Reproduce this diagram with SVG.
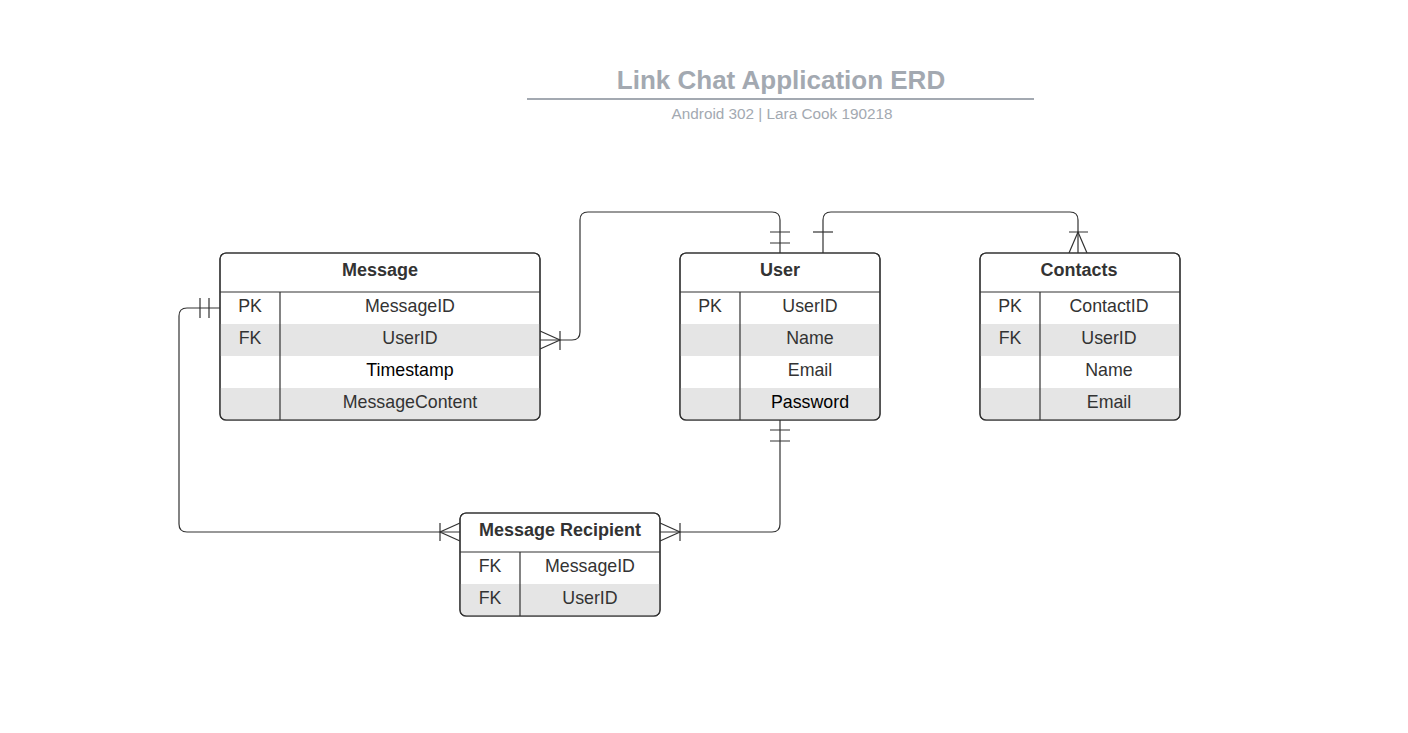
<svg xmlns="http://www.w3.org/2000/svg" width="1408" height="733" viewBox="0 0 1408 733">
<style>
.box{fill:#fff;stroke:#333;stroke-width:1.2}
.band{fill:#e5e5e5}
.ln{stroke:#333;stroke-width:1.2;fill:none}
.hd{font-family:"Liberation Sans",Arial,sans-serif;font-size:18px;font-weight:bold;fill:#333;text-anchor:middle}
.tx{font-family:"Liberation Sans",Arial,sans-serif;font-size:17.8px;fill:#333;text-anchor:middle}
.bk{fill:#000}
.cn{stroke:#333;stroke-width:1.2;fill:none}
</style>
<rect width="1408" height="733" fill="#fff"/>
<g id="title">
<text x="781" y="89" font-family="Liberation Sans,Arial,sans-serif" font-size="26" font-weight="bold" fill="#a3a9b1" text-anchor="middle">Link Chat Application ERD</text>
<line x1="527" y1="99" x2="1034" y2="99" stroke="#a3a9b1" stroke-width="2"/>
<text x="782" y="119" font-family="Liberation Sans,Arial,sans-serif" font-size="15.3" fill="#a3a9b1" text-anchor="middle">Android 302 | Lara Cook 190218</text>
</g>
<g id="connectors">
<path class="cn" d="M540,340 H572 Q580,340 580,332 V220 Q580,212 588,212 H772 Q780,212 780,220 V253"/>
<path class="cn" d="M540,331 L560,340 L540,349 M560,331 V350"/>
<path class="cn" d="M770,232 H790 M770,243 H790"/>
<path class="cn" d="M823,253 V220 Q823,212 831,212 H1070 Q1078,212 1078,220 V253"/>
<path class="cn" d="M813,232 H833"/>
<path class="cn" d="M1069,253 L1078,232 L1087,253 M1069,232 H1088"/>
<path class="cn" d="M220,308 H187 Q179,308 179,316 V524 Q179,532 187,532 H460"/>
<path class="cn" d="M200,298 V318 M209,298 V318"/>
<path class="cn" d="M460,523 L440,532 L460,541 M440,523 V541"/>
<path class="cn" d="M780,420 V524 Q780,532 772,532 H660"/>
<path class="cn" d="M770,430 H790 M770,441 H790"/>
<path class="cn" d="M660,523 L680,532 L660,541 M680,523 V541"/>
</g>
<g id="message">
<rect class="box" x="220" y="253" width="320" height="167" rx="6"/>
<rect class="band" x="220.6" y="324" width="318.8" height="32"/>
<path class="band" d="M220.6,388 H539.4 V413 Q539.4,419.4 533,419.4 H227 Q220.6,419.4 220.6,413 Z"/>
<rect x="220" y="253" width="320" height="167" rx="6" class="ln"/>
<path class="ln" d="M220,292 H540 M280,292 V420"/>
<text class="hd" x="380" y="276">Message</text>
<text class="tx" x="250" y="312">PK</text><text class="tx" x="410" y="312">MessageID</text>
<text class="tx" x="250" y="344">FK</text><text class="tx" x="410" y="344">UserID</text>
<text class="tx bk" x="410" y="376">Timestamp</text>
<text class="tx" x="410" y="408">MessageContent</text>
</g>
<g id="user">
<rect class="box" x="680" y="253" width="200" height="167" rx="6"/>
<rect class="band" x="680.6" y="324" width="198.8" height="32"/>
<path class="band" d="M680.6,388 H879.4 V413 Q879.4,419.4 873,419.4 H687 Q680.6,419.4 680.6,413 Z"/>
<rect x="680" y="253" width="200" height="167" rx="6" class="ln"/>
<path class="ln" d="M680,292 H880 M740,292 V420"/>
<text class="hd" x="780" y="276">User</text>
<text class="tx" x="710" y="312">PK</text><text class="tx" x="810" y="312">UserID</text>
<text class="tx" x="810" y="344">Name</text>
<text class="tx" x="810" y="376">Email</text>
<text class="tx bk" x="810" y="408">Password</text>
</g>
<g id="contacts">
<rect class="box" x="980" y="253" width="200" height="167" rx="6"/>
<rect class="band" x="980.6" y="324" width="198.8" height="32"/>
<path class="band" d="M980.6,388 H1179.4 V413 Q1179.4,419.4 1173,419.4 H987 Q980.6,419.4 980.6,413 Z"/>
<rect x="980" y="253" width="200" height="167" rx="6" class="ln"/>
<path class="ln" d="M980,292 H1180 M1040,292 V420"/>
<text class="hd" x="1079" y="276">Contacts</text>
<text class="tx" x="1010" y="312">PK</text><text class="tx" x="1109" y="312">ContactID</text>
<text class="tx" x="1010" y="344">FK</text><text class="tx" x="1109" y="344">UserID</text>
<text class="tx" x="1109" y="376">Name</text>
<text class="tx" x="1109" y="408">Email</text>
</g>
<g id="message-recipient">
<rect class="box" x="460" y="513" width="200" height="103" rx="6"/>
<path class="band" d="M460.6,584 H659.4 V609 Q659.4,615.4 653,615.4 H467 Q460.6,615.4 460.6,609 Z"/>
<rect x="460" y="513" width="200" height="103" rx="6" class="ln"/>
<path class="ln" d="M460,552 H660 M520,552 V616"/>
<text class="hd" x="560" y="536">Message Recipient</text>
<text class="tx" x="490" y="572">FK</text><text class="tx" x="590" y="572">MessageID</text>
<text class="tx" x="490" y="604">FK</text><text class="tx" x="590" y="604">UserID</text>
</g>
</svg>
